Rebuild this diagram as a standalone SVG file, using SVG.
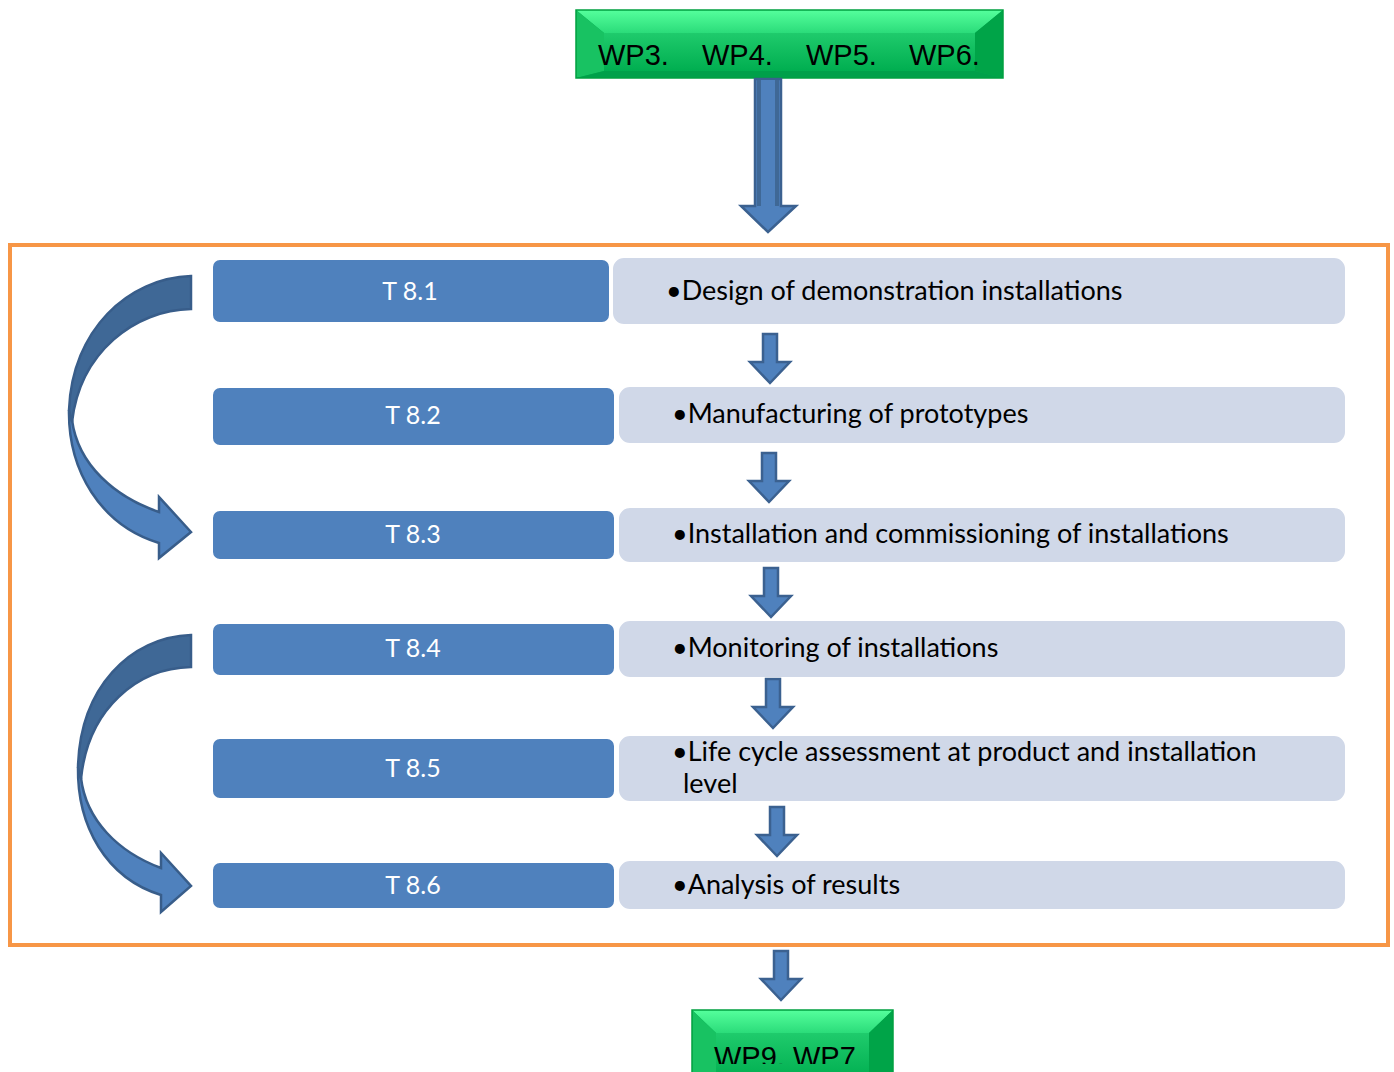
<svg xmlns="http://www.w3.org/2000/svg" width="1394" height="1072" viewBox="0 0 1394 1072">
  <style>
    .task { fill: #4F81BD; stroke: #FFFFFF; stroke-width: 2; }
    .desc { fill: #D0D8E8; stroke: #FFFFFF; stroke-width: 2; }
    .tlabel { font-family: Lato, "Open Sans", sans-serif; font-size: 25px; fill: #FFFFFF; text-anchor: middle; }
    .dtext { font-family: Lato, "Open Sans", sans-serif; font-size: 27px; fill: #000000; }
    .wp { font-family: "Liberation Sans", Arial, sans-serif; font-size: 29px; fill: #000000; }
    .flow { fill: #4F81BD; stroke: #3B6190; stroke-width: 2.5; stroke-linejoin: miter; }
    .curve-front { fill: #4F81BD; stroke: #385D8A; stroke-width: 2.5; stroke-linejoin: miter; }
    .curve-back { fill: #3F6896; stroke: #385D8A; stroke-width: 2.5; stroke-linejoin: miter; }
  </style>
  <defs>
    <linearGradient id="bevelTop" x1="0" y1="0" x2="0" y2="1">
      <stop offset="0" stop-color="#55FF9C"/>
      <stop offset="1" stop-color="#2BDC7A"/>
    </linearGradient>
    <linearGradient id="face" x1="0" y1="0" x2="0" y2="1">
      <stop offset="0" stop-color="#1FCB6C"/>
      <stop offset="1" stop-color="#00AE50"/>
    </linearGradient>
    <!-- short downward block arrow, tip at the origin -->
    <path id="downArrow" d="M-7,-49 L7,-49 L7,-21 L20,-21 L0,0 L-20,-21 L-7,-21 Z"/>
    <clipPath id="bottomClip">
      <rect x="680" y="1000" width="230" height="64"/>
    </clipPath>
  </defs>

  <!-- work package frame -->
  <rect id="frame" x="10" y="245" width="1378" height="700" fill="none" stroke="#F79646" stroke-width="4"/>

  <!-- input work packages -->
  <g id="wp-input">
    <rect x="576" y="10" width="427" height="68" fill="#00B050"/>
    <polygon points="576,10 1003,10 975,33 604,33" fill="url(#bevelTop)"/>
    <polygon points="576,10 604,33 604,71 576,78" fill="#18C262"/>
    <polygon points="1003,10 1003,78 975,71 975,33" fill="#00A448"/>
    <polygon points="576,78 604,71 975,71 1003,78" fill="#00A04A"/>
    <rect x="604" y="33" width="371" height="38" fill="url(#face)"/>
    <rect x="576" y="10" width="427" height="68" fill="none" stroke="#00A040" stroke-width="1.5"/>
    <text class="wp" x="598" y="65">WP3.</text>
    <text class="wp" x="702" y="65">WP4.</text>
    <text class="wp" x="806" y="65">WP5.</text>
    <text class="wp" x="909" y="65">WP6.</text>
  </g>

  <!-- output work packages -->
  <g id="wp-output">
    <rect x="692" y="1010" width="201" height="70" fill="#00B050"/>
    <polygon points="692,1010 893,1010 869,1033 716,1033" fill="url(#bevelTop)"/>
    <polygon points="692,1010 716,1033 716,1080 692,1080" fill="#18C262"/>
    <polygon points="893,1010 893,1080 869,1080 869,1033" fill="#00A448"/>
    <rect x="716" y="1033" width="153" height="47" fill="url(#face)"/>
    <rect x="692" y="1010" width="201" height="70" fill="none" stroke="#00A040" stroke-width="1.5"/>
    <text class="wp" x="714" y="1067" clip-path="url(#bottomClip)">WP9. WP7</text>
  </g>

  <!-- task rows -->
  <g id="row-8-1">
    <rect class="desc" x="612" y="257" width="734" height="68" rx="12"/>
    <rect class="task" x="212" y="259" width="398" height="64" rx="8"/>
    <text class="tlabel" x="410" y="300">T 8.1</text>
    <text class="dtext" x="666" y="300">•Design of demonstration installations</text>
  </g>
  <g id="row-8-2">
    <rect class="desc" x="618" y="386" width="728" height="58" rx="12"/>
    <rect class="task" x="212" y="387" width="403" height="59" rx="8"/>
    <text class="tlabel" x="413" y="424">T 8.2</text>
    <text class="dtext" x="672" y="423">•Manufacturing of prototypes</text>
  </g>
  <g id="row-8-3">
    <rect class="desc" x="618" y="507" width="728" height="56" rx="12"/>
    <rect class="task" x="212" y="510" width="403" height="50" rx="8"/>
    <text class="tlabel" x="413" y="543">T 8.3</text>
    <text class="dtext" x="672" y="543">•Installation and commissioning of installations</text>
  </g>
  <g id="row-8-4">
    <rect class="desc" x="618" y="620" width="728" height="58" rx="12"/>
    <rect class="task" x="212" y="623" width="403" height="53" rx="8"/>
    <text class="tlabel" x="413" y="657">T 8.4</text>
    <text class="dtext" x="672" y="657">•Monitoring of installations</text>
  </g>
  <g id="row-8-5">
    <rect class="desc" x="618" y="735" width="728" height="67" rx="12"/>
    <rect class="task" x="212" y="738" width="403" height="61" rx="8"/>
    <text class="tlabel" x="413" y="777">T 8.5</text>
    <text class="dtext" x="672" y="761">•Life cycle assessment at product and installation</text>
    <text class="dtext" x="683" y="793">level</text>
  </g>
  <g id="row-8-6">
    <rect class="desc" x="618" y="860" width="728" height="50" rx="12"/>
    <rect class="task" x="212" y="862" width="403" height="47" rx="8"/>
    <text class="tlabel" x="413" y="894">T 8.6</text>
    <text class="dtext" x="672" y="894">•Analysis of results</text>
  </g>

  <!-- connectors -->
  <g id="connectors">
    <!-- main input arrow: darker shaft edges with a lighter core -->
    <path class="flow" d="M755,79 L781,79 L781,206 L796,206 L768,232 L741,206 L755,206 Z"/>
    <rect x="757" y="80" width="22" height="126" fill="#3F6896"/>
    <rect x="761" y="80" width="14" height="128" fill="#4F81BD"/>

    <use href="#downArrow" class="flow" x="770" y="383"/>
    <use href="#downArrow" class="flow" x="769" y="502"/>
    <use href="#downArrow" class="flow" x="771" y="617"/>
    <use href="#downArrow" class="flow" x="773" y="728"/>
    <use href="#downArrow" class="flow" x="777" y="856"/>
    <use href="#downArrow" class="flow" x="781" y="1000"/>

    <!-- curved arrow T 8.1 to T 8.3 -->
    <path class="curve-front" d="M69,410 C68,470 100,525 159,543 L159,558 L191,532 L159,497 L159,512 C115,497 78,465 72,420 Z"/>
    <path class="curve-back" d="M191,276 C128,278 72,330 69,410 L72,422 C80,352 135,310 191,309 Z"/>

    <!-- curved arrow T 8.4 to T 8.6 -->
    <path class="curve-front" d="M78,767 C77,826 106,878 161,895 L161,912 L191,886 L161,853 L161,868 C118,852 86,820 81,778 Z"/>
    <path class="curve-back" d="M191,635 C130,637 80,688 78,767 L81,779 C88,708 138,668 191,667 Z"/>
  </g>
</svg>
